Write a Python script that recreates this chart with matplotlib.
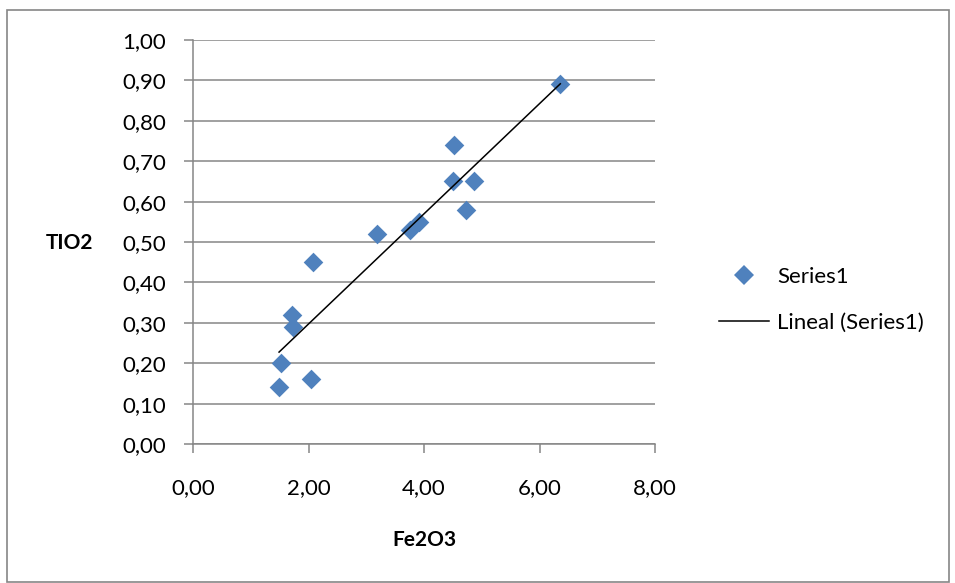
import matplotlib
matplotlib.use('Agg')
import matplotlib.pyplot as plt
import numpy as np
from matplotlib.lines import Line2D
from matplotlib.patches import Rectangle
from matplotlib.ticker import FuncFormatter

# data
fe2o3 = [6.36, 4.52, 4.51, 4.87, 4.73, 3.92, 3.76, 3.18, 2.08, 1.71, 1.73, 1.52, 2.04, 1.49]
tio2 = [0.89, 0.74, 0.65, 0.65, 0.58, 0.55, 0.53, 0.52, 0.45, 0.32, 0.29, 0.20, 0.16, 0.14]

plt.rcParams['font.family'] = ['Lato', 'DejaVu Sans']

blue = "#4F81BD"
grey = "#868686"

fig = plt.figure(figsize=(9.55, 5.83), dpi=100)
ax = fig.add_axes([193/955, 1-444/583, 462/955, 404/583])

# outer chart border
fig.patches.append(Rectangle((7/955, 1-582/583), 942/955, 572/583,
                             transform=fig.transFigure, fill=False,
                             edgecolor=grey, lw=1.2))

ax.scatter(fe2o3, tio2, marker="D", s=100, color=blue, zorder=3, linewidths=0)

# linear trend line
x = np.array(fe2o3)
m, b = np.polyfit(x, tio2, 1)
xs = np.array([x.min(), x.max()])
ax.plot(xs, m*xs + b, color="black", lw=1.1, zorder=4)

ax.set_xlim(0, 8)
ax.set_ylim(0, 1)
ax.set_xticks(np.arange(0, 9, 2))
ax.set_yticks(np.arange(0, 1.01, 0.1))
fmt = FuncFormatter(lambda v, p: f"{v:.2f}".replace(".", ","))
ax.xaxis.set_major_formatter(fmt)
ax.yaxis.set_major_formatter(fmt)

ax.grid(axis="y", color=grey, lw=1.1)
ax.set_axisbelow(True)
for s in ["top", "right"]:
    ax.spines[s].set_visible(False)
for s in ["left", "bottom"]:
    ax.spines[s].set_color(grey)
    ax.spines[s].set_linewidth(1.1)
ax.tick_params(axis="y", length=6.5, color=grey, width=1.1, labelsize=16, pad=13)
ax.tick_params(axis="x", length=6.5, color=grey, width=1.1, labelsize=16, pad=18)

fig.text(70/955, 1-243/583, "TIO2", fontsize=15, fontweight="bold", ha="center", va="center")
fig.text(424/955, 1-540/583, "Fe2O3", fontsize=15, fontweight="bold", ha="center", va="center")

handles = [Line2D([], [], marker="D", ms=10, color=blue, lw=0, markeredgewidth=0),
           Line2D([], [], color="black", lw=1.1)]
fig.legend(handles, ["Series1", "Lineal (Series1)"], loc="center left",
           bbox_to_anchor=(699/955, 1-300/583), frameon=False, fontsize=16,
           handlelength=2.25, handletextpad=0.36, labelspacing=1.15)

fig.savefig("out.png", dpi=100)
